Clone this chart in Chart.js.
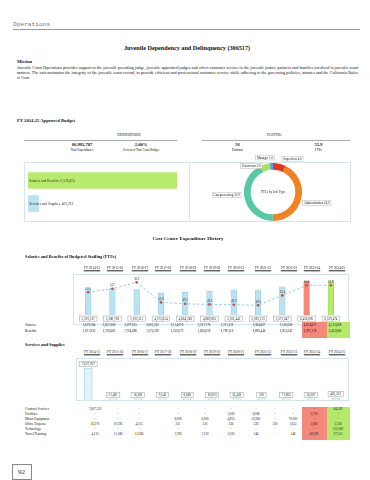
<!DOCTYPE html>
<html>
<head>
<meta charset="utf-8">
<script src="https://cdn.jsdelivr.net/npm/chart.js@4.4.1/dist/chart.umd.min.js"></script>
<style>
  html, body { margin: 0; padding: 0; background: #fff; }
  #page { position: relative; width: 370px; height: 480px; overflow: hidden;
          font-family: "Liberation Serif", "Times New Roman", serif; color: #111; }
  .abs { position: absolute; white-space: nowrap; line-height: 1; }
  .box { position: absolute; border: 1px solid #d3e4ec; box-sizing: border-box; }
  .fill { position: absolute; }
  canvas { position: absolute; }
</style>
</head>
<body>
<div id="page">
  <div class="fill" style="left:13px;top:29px;width:347px;height:0.8px;background:#999"></div>
  <div class="fill" style="left:24px;top:139.5px;width:153px;height:1.5px;background:#aaa"></div>
  <div class="fill" style="left:202px;top:139.5px;width:148px;height:1.5px;background:#aaa"></div>
  <div class="box" style="left:24px;top:162px;width:327px;height:60px"></div>
  <div class="fill" style="left:189px;top:162px;width:1px;height:60px;background:#d3e4ec"></div>
  <div class="box" style="left:73px;top:274px;width:276px;height:51px"></div>
  <div class="fill" style="left:302px;top:322px;width:25px;height:16px;background:#f4887b"></div>
  <div class="fill" style="left:327px;top:322px;width:23px;height:16px;background:#b3ea6c"></div>
  <div class="box" style="left:76px;top:358px;width:273px;height:43px"></div>
  <div class="fill" style="left:302px;top:407px;width:25px;height:33px;background:#f4887b"></div>
  <div class="fill" style="left:327px;top:407px;width:23px;height:33px;background:#b3ea6c"></div>
  <div class="box" style="left:11.5px;top:464px;width:20px;height:16px;border-color:#888"></div>

  <canvas id="chart-expenditures" width="149" height="46" style="left:28px;top:168.5px"></canvas>
  <canvas id="chart-ftes" width="146" height="92" style="left:200px;top:146px"></canvas>
  <canvas id="chart-salaries" width="275" height="51" style="left:72px;top:274px"></canvas>
  <canvas id="chart-services" width="272" height="43" style="left:76px;top:358px"></canvas>
</div>

<script>
const fiscalYears = ['FY 2014-15', 'FY 2015-16', 'FY 2016-17', 'FY 2017-18', 'FY 2018-19', 'FY 2019-20',
                     'FY 2020-21', 'FY 2021-22', 'FY 2022-23', 'FY 2023-24', 'FY 2024-25'];

const salaries = [3619584, 3632066, 3397615, 3005325, 3114076, 3213776, 3311332, 3384667, 3516600, 4164827, 4115608];
const benefits = [1671933, 1756662, 1704896, 1570329, 1550672, 1656059, 1790110, 1696446, 2055047, 2291178, 2413866];
const salaryBenefitTotals = [5291517, 5388728, 5102511, 4575654, 4664748, 4869835, 5101442, 5081113, 5571647, 6456005, 6529474];
const budgetedFtes = [53.5, 54.7, 56.9, 50.0, 49.5, 49.3, 49.2, 49.0, 52.4, 55.9, 55.9];

const contractServices = [7607532, null, null, null, null, null, null, null, null, null, 84569];
const facilities       = [null, null, null, null, null, 5600, 6096, null, null, 3720, null];
const minorEquipment   = [null, null, null, 6000, 6000, 4815, 25660, null, 70000, null, null];
const officeExpense    = [16270, 10295, 4315, 251, 510, 556, 526, 520, 1655, 3085, 3336];
const technology       = [null, null, null, null, null, null, null, null, null, null, 352000];
const travelTraining   = [4125, 11186, 12066, 3292, 2150, 5032, 146, null, 148, 49582, 27513];
const servicesTotals   = [7627927, 21481, 16381, 9543, 8660, 16003, 32428, 520, 71803, 56387, 463313];

const expenditureCategories = ['Salaries and Benefits', 'Services and Supplies'];
const expenditureValues = [6529474, 463313];

const jobTypes = ['Supervisor', 'Administration', 'Caseprocessing', 'Courtroom', 'Manager'];
const jobTypeFtes = [4.0, 24.0, 23.9, 3.0, 1.0];

const totalExpenditures = 6992787;
const percentOfCourtBudget = '2.00%';
const positions = 56;
const totalFtes = 55.9;

const SERIF = '"Liberation Serif", "Times New Roman", serif';
const BLUE = '#b9e2f3', BLUE_LINE = '#8fc9e1';
const RED = '#f4887b', RED_LINE = '#e06e60';
const GREEN = '#b7eb6e', GREEN_LINE = '#97cf4c';

const page = document.getElementById('page');
const fmt = n => n.toLocaleString('en-US');

function put(text, x, y, o = {}) {
  const el = document.createElement('div');
  el.className = 'abs';
  el.textContent = text;
  el.style.left = x + 'px';
  el.style.top = y + 'px';
  el.style.fontSize = (o.size || 3.4) + 'px';
  if (o.bold) el.style.fontWeight = 'bold';
  if (o.font) el.style.fontFamily = o.font;
  if (o.color) el.style.color = o.color;
  if (o.underline) el.style.textDecoration = 'underline';
  page.appendChild(el);
  const ax = o.align === 'center' ? '-50%' : o.align === 'right' ? '-100%' : '0';
  let t = `translate(${ax}, -50%)`;
  if (o.width) {
    el.style.transformOrigin = 'left center';
    t += ` scaleX(${o.width / el.offsetWidth})`;
  }
  el.style.transform = t;
  return el;
}

// header and text
put('Operations', 13, 25, { size: 6.2, font: '"Liberation Mono", monospace', color: '#777' });
put('Juvenile Dependency and Delinquency (306517)', 187, 48, { size: 6.2, bold: true, align: 'center' });
put('Mission', 17, 62, { size: 4.5, bold: true });
put('Juvenile Court Operations provides support to the juvenile presiding judge, juvenile appointed judges and offers customer service to the juvenile justice partners and families involved in juvenile court',
    17, 69, { size: 3.6, width: 341 });
put('matters.  The unit maintains the integrity of the juvenile court record, to provide efficient and professional customer service while adhering to the governing policies, statutes and the California Rules',
    17, 74, { size: 3.6, width: 341 });
put('of Court.', 17, 79, { size: 3.6 });
put('FY 2024-25 Approved Budget', 17, 121, { size: 4.6, bold: true });

put('EXPENDITURES', 129, 136, { size: 3.2, align: 'center' });
put('STAFFING', 274, 136, { size: 3.2, align: 'center' });
put('$' + fmt(totalExpenditures), 82, 144.5, { size: 4.6, bold: true, align: 'center' });
put('Total Expenditures', 82, 150.3, { size: 3, align: 'center' });
put(percentOfCourtBudget, 141, 144.5, { size: 4.6, bold: true, align: 'center' });
put('Percent of Total Court Budget', 141, 150.3, { size: 3, align: 'center' });
put(String(positions), 237.5, 144.5, { size: 4.6, bold: true, align: 'center' });
put('Positions', 237.5, 150.3, { size: 3, align: 'center' });
put(totalFtes.toFixed(1), 318.5, 144.5, { size: 4.6, bold: true, align: 'center' });
put('FTEs', 318.5, 150.3, { size: 3, align: 'center' });

put('Cost Center Expenditure History', 188, 238, { size: 5, bold: true, align: 'center' });
put('Salaries and Benefits of Budgeted Staffing (FTEs)', 25, 257.3, { size: 4.3, bold: true });
put('Services and Supplies', 25, 345, { size: 4.3, bold: true });
put('92', 21.5, 472, { size: 7, align: 'center', color: '#333' });

// fiscal year headers above both history charts
const headerX = [92, 115, 140, 163, 188, 212, 236, 263, 289, 312, 337];
fiscalYears.forEach((fy, i) => {
  put(fy, headerX[i], 269.3, { size: 3.4, underline: true, align: 'center', color: '#222' });
  put(fy, headerX[i], 353.3, { size: 3.4, underline: true, align: 'center', color: '#222' });
});

// tables
const salaryColX = [89, 109, 130.5, 152.5, 177, 204, 227, 259, 286, 310, 335];
const serviceColX = [95, 118, 139, 178, 205, 231, 256, 275, 293, 314, 338];
function tableRow(label, values, y, colX) {
  put(label, 25, y, { size: 3.4 });
  values.forEach((v, i) => put(v == null ? '-' : fmt(v), colX[i], y, { size: 3.2, align: 'center' }));
}
tableRow('Salaries', salaries, 326, salaryColX);
tableRow('Benefits', benefits, 331.5, salaryColX);
tableRow('Contract Services', contractServices, 410, serviceColX);
tableRow('Facilities', facilities, 415, serviceColX);
tableRow('Minor Equipment', minorEquipment, 420, serviceColX);
tableRow('Office Expense', officeExpense, 425, serviceColX);
tableRow('Technology', technology, 430, serviceColX);
tableRow('Travel/Training', travelTraining, 435, serviceColX);

function boxLabel(ctx, text, x, y, o = {}) {
  const size = o.size || 3.3, padX = o.padX ?? 2.2, padY = o.padY ?? 0.9;
  ctx.save();
  ctx.font = `${size}px ${SERIF}`;
  const w = ctx.measureText(text).width + padX * 2;
  const h = size + padY * 2;
  const left = o.align === 'left' ? x : o.align === 'right' ? x - w : x - w / 2;
  ctx.fillStyle = '#fff';
  ctx.fillRect(left, y - h / 2, w, h);
  ctx.strokeStyle = o.border || '#9a9a9a';
  ctx.lineWidth = 0.5;
  ctx.strokeRect(left, y - h / 2, w, h);
  ctx.fillStyle = '#222';
  ctx.textAlign = 'left';
  ctx.textBaseline = 'middle';
  ctx.fillText(text, left + padX, y + 0.2);
  ctx.restore();
}

const common = {
  responsive: false,
  animation: false,
  events: [],
  plugins: { legend: { display: false }, tooltip: { enabled: false } },
};

// expenditures bars
new Chart(document.getElementById('chart-expenditures'), {
  type: 'bar',
  data: {
    labels: expenditureCategories,
    datasets: [{
      data: expenditureValues,
      backgroundColor: [GREEN, BLUE],
      borderWidth: 0,
      barThickness: 16,
    }]
  },
  options: {
    ...common,
    indexAxis: 'y',
    layout: { padding: 0 },
    scales: {
      x: { display: false, min: 0, max: Math.max(...expenditureValues) },
      y: { display: false }
    }
  },
  plugins: [{
    id: 'barText',
    afterDatasetsDraw(chart) {
      const ctx = chart.ctx;
      ctx.save();
      ctx.font = `3.5px ${SERIF}`;
      ctx.fillStyle = '#333';
      ctx.textBaseline = 'middle';
      chart.getDatasetMeta(0).data.forEach((bar, i) => {
        ctx.fillText(`${expenditureCategories[i]}  ${fmt(expenditureValues[i])}`, chart.chartArea.left + 1.3, bar.y + 0.5);
      });
      ctx.restore();
    }
  }]
});

// FTEs by job type
const jobLabelPlacement = [
  { dx: 2.5, dy: -5, align: 'left' },
  { dx: 1.4, dy: 4.5, align: 'left' },
  { dx: -3.7, dy: -3.5, align: 'right' },
  { dx: -3, dy: 2, align: 'right' },
  { dx: 3, dy: -5.5, align: 'right' },
];
new Chart(document.getElementById('chart-ftes'), {
  type: 'doughnut',
  data: {
    labels: jobTypes,
    datasets: [{
      data: jobTypeFtes,
      backgroundColor: ['#e1361f', '#f2821f', '#55c9a4', '#a6e25a', '#5b9fe0'],
      borderWidth: 0,
      radius: 29,
    }]
  },
  options: { ...common, cutout: '77%', layout: { padding: 0 } },
  plugins: [{
    id: 'arcLabels',
    afterDatasetsDraw(chart) {
      const ctx = chart.ctx;
      const arcs = chart.getDatasetMeta(0).data;
      arcs.forEach((arc, i) => {
        const { x, y, startAngle, endAngle, outerRadius } = arc.getProps(['x', 'y', 'startAngle', 'endAngle', 'outerRadius'], true);
        const mid = (startAngle + endAngle) / 2;
        const p = jobLabelPlacement[i];
        const ax = x + Math.cos(mid) * outerRadius + p.dx;
        const ay = y + Math.sin(mid) * outerRadius + p.dy;
        boxLabel(ctx, `${jobTypes[i]} ${jobTypeFtes[i].toFixed(1)}`, ax, ay,
                 { align: p.align, size: 3.2, padX: 1.3, padY: 0.8, border: '#b8b8b8' });
      });
      const c = arcs[0];
      ctx.save();
      ctx.font = `3.4px ${SERIF}`;
      ctx.fillStyle = '#333';
      ctx.textAlign = 'center';
      ctx.textBaseline = 'middle';
      ctx.fillText('FTEs by Job Type', c.x, c.y);
      ctx.restore();
    }
  }]
});

// salaries and benefits with budgeted FTEs
const colorAt = (i, base, red, green) => i === 9 ? red : i === 10 ? green : base;
new Chart(document.getElementById('chart-salaries'), {
  data: {
    labels: fiscalYears,
    datasets: [
      {
        type: 'line',
        data: budgetedFtes,
        yAxisID: 'y1',
        order: 0,
        borderColor: '#8dcfe6',
        borderWidth: 1,
        borderDash: [2.5, 2],
        tension: 0,
        pointRadius: 1.3,
        pointBorderWidth: 0,
        pointBackgroundColor: '#d9473b',
      },
      {
        type: 'bar',
        data: salaryBenefitTotals,
        yAxisID: 'y',
        order: 1,
        backgroundColor: fiscalYears.map((_, i) => colorAt(i, BLUE, RED, GREEN)),
        borderColor: fiscalYears.map((_, i) => colorAt(i, BLUE_LINE, RED_LINE, GREEN_LINE)),
        borderWidth: 0.6,
        barThickness: 5.6,
      }
    ]
  },
  options: {
    ...common,
    layout: { padding: { top: 0, bottom: 10, left: 0, right: 0 } },
    scales: {
      x: { display: false },
      y: { display: false, min: 1000000, max: 7000000 },
      y1: { display: false, min: 45.65, max: 58.4 }
    }
  },
  plugins: [{
    id: 'historyLabels',
    afterDatasetsDraw(chart) {
      const ctx = chart.ctx;
      const line = chart.getDatasetMeta(0).data;
      const bars = chart.getDatasetMeta(1).data;
      bars.forEach((bar, i) => boxLabel(ctx, fmt(salaryBenefitTotals[i]), bar.x, chart.chartArea.bottom + 3.6));
      ctx.save();
      ctx.font = `3px ${SERIF}`;
      ctx.fillStyle = '#333';
      ctx.textAlign = 'center';
      ctx.textBaseline = 'middle';
      line.forEach((pt, i) => ctx.fillText(budgetedFtes[i].toFixed(1), pt.x, pt.y - 3.2));
      ctx.restore();
    }
  }]
});

// services and supplies
new Chart(document.getElementById('chart-services'), {
  type: 'bar',
  data: {
    labels: fiscalYears,
    datasets: [{
      data: servicesTotals,
      backgroundColor: '#e3f3fa',
      borderColor: '#99d0e6',
      borderWidth: 0.8,
      barThickness: 7.6,
      minBarLength: 1.2,
    }]
  },
  options: {
    ...common,
    layout: { padding: { top: 0, bottom: 1, left: 0, right: 0 } },
    scales: {
      x: { display: false },
      y: { display: false, min: 0, max: 10000000 }
    }
  },
  plugins: [{
    id: 'servicesLabels',
    afterDatasetsDraw(chart) {
      chart.getDatasetMeta(0).data.forEach((bar, i) =>
        boxLabel(chart.ctx, fmt(servicesTotals[i]), bar.x, Math.min(bar.y, chart.chartArea.bottom - 1) - 4));
    }
  }]
});
</script>
</body>
</html>
